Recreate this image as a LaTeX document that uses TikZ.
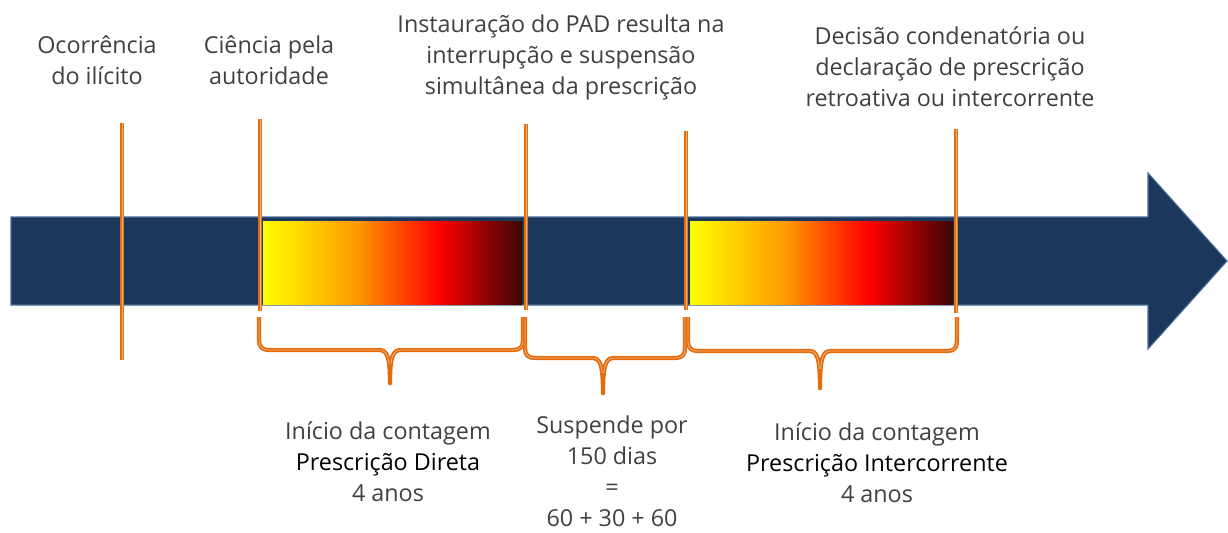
\documentclass[tikz,border=0pt]{standalone}
\usepackage{fontspec}
\setmainfont{Open Sans}
\definecolor{barC}{HTML}{1B375C}
\definecolor{barEdge}{HTML}{4D6E96}
\definecolor{orC}{HTML}{E46C0A}
\definecolor{orL}{HTML}{F4B183}
\definecolor{txtC}{HTML}{404040}
\definecolor{darkEnd}{HTML}{3A0606}
\definecolor{midOr}{HTML}{FF9A00}
\pgfdeclarehorizontalshading{heat}{100bp}{color(0bp)=(yellow); color(25bp)=(yellow); color(43bp)=(midOr); color(59bp)=(red); color(75bp)=(darkEnd); color(100bp)=(darkEnd)}
\tikzset{
  marker/.style={draw=orC, line width=1.5pt, double=orL, double distance=0.6pt},
  bracestyle/.style={draw=orC, line width=1.3pt, double=orL, double distance=0.6pt, line join=round},
  tipstyle/.style={draw=orC, line width=3.4pt, line cap=round},
  lbl/.style={align=center, inner sep=0pt, text=txtC, font=\fontsize{17.5}{23.25}\selectfont},
  heatbox/.style={shading=heat, draw=none},
}
\begin{document}
\begin{tikzpicture}[x=0.75pt, y=-0.75pt]
\useasboundingbox (0,0) rectangle (1228,532);
% timeline arrow
\draw[fill=barC, draw=barEdge, line width=0.8pt] (11,217) -- (1148,217) -- (1148,173) -- (1227,261) -- (1148,349) -- (1148,305) -- (11,305) -- cycle;
% gradient periods
\path[heatbox] (263,221) rectangle (522,304);
\path[heatbox] (690,221) rectangle (953,304);
% marker coordinates
\coordinate (m1t) at (122,123); \coordinate (m1b) at (122,360);
\coordinate (m2t) at (260,119); \coordinate (m2b) at (260,311);
\coordinate (m3t) at (526,124); \coordinate (m3b) at (526,310);
\coordinate (m4t) at (686,131); \coordinate (m4b) at (686,310);
\coordinate (m5t) at (956,129); \coordinate (m5b) at (956,313);
\draw[marker] (m1t) -- (m1b);
\draw[marker] (m2t) -- (m2b);
\draw[marker] (m3t) -- (m3b);
\draw[marker] (m4t) -- (m4b);
\draw[marker] (m5t) -- (m5b);
% braces
\coordinate (b1tip) at (390,383);
\coordinate (b2tip) at (603,393);
\coordinate (b3tip) at (820,388);
\draw[bracestyle] (259,317) -- (259,340) .. controls (259,347) and (262,350) .. (269,350) -- (379,350) .. controls (387,350) and (390,356) .. (b1tip) .. controls (390,356) and (393,350) .. (401,350) -- (513,350) .. controls (520,350) and (523,347) .. (523,340) -- (523,317);
\draw[tipstyle] (390,366) -- (b1tip);
\draw[bracestyle] (525,317) -- (525,348) .. controls (525,355) and (528,358) .. (535,358) -- (592,358) .. controls (600,358) and (603,364) .. (b2tip) .. controls (603,364) and (606,358) .. (614,358) -- (675,358) .. controls (682,358) and (685,355) .. (685,348) -- (685,317);
\draw[tipstyle] (603,375) -- (b2tip);
\draw[bracestyle] (688,317) -- (688,341) .. controls (688,348) and (691,351) .. (698,351) -- (809,351) .. controls (817,351) and (820,357) .. (b3tip) .. controls (820,357) and (823,351) .. (831,351) -- (947,351) .. controls (954,351) and (957,348) .. (957,341) -- (957,317);
\draw[tipstyle] (820,371) -- (b3tip);
% top labels
\node[lbl] (t1) at (97,60) {Ocorrência\\do ilícito};
\node[lbl] (t2) at (269,60) {Ciência pela\\autoridade};
\node[lbl] (t3) at (561,57) {Instauração do PAD resulta na\\interrupção e suspensão\\simultânea da prescrição};
\node[lbl] (t4) at (950,67) {Decisão condenatória ou\\declaração de prescrição\\retroativa ou intercorrente};
% bottom labels
\node[lbl] (d1) at (388,462) {Início da contagem\\\textcolor{black}{Prescrição Direta}\\4 anos};
\node[lbl] (d2) at (612,471) {Suspende por\\150 dias\\=\\60 + 30 + 60};
\node[lbl] (d3) at (877,463) {Início da contagem\\\textcolor{black}{Prescrição Intercorrente}\\4 anos};
\end{tikzpicture}
\end{document}
